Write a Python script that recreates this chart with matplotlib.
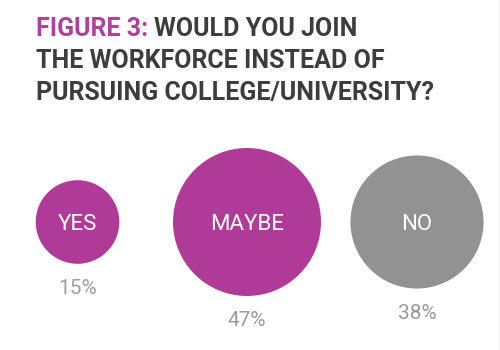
import matplotlib
matplotlib.use("Agg")
import matplotlib.pyplot as plt
from matplotlib.patches import Circle
import numpy as np

# survey answers
answers = ["YES", "MAYBE", "NO"]
shares = [15, 47, 38]
colors = ["#b03a97", "#b03a97", "#929292"]
pct_colors = ["#a59d97", "#9a9a9a", "#9a9a9a"]

centers_x = [77.5, 247, 417]
center_y = 222
scale = 74 / np.sqrt(47)   # px per sqrt(percent), circle area ~ share

fig = plt.figure(figsize=(5, 3.5), dpi=100)
ax = fig.add_axes([0, 0, 1, 1])
ax.set_xlim(0, 500)
ax.set_ylim(350, 0)
ax.set_aspect("equal")
ax.axis("off")

# title, first bit in magenta
tkw = dict(fontsize=18, family="Roboto", weight="bold", va="center", ha="left")
t = ax.text(36, 29, "FIGURE 3: ", color="#b0409a", **tkw)
fig.canvas.draw()
bb = t.get_window_extent().transformed(ax.transData.inverted())
ax.text(bb.x1, 29, "WOULD YOU JOIN", color="#3d3d3d", **tkw)
ax.text(36, 61, "THE WORKFORCE INSTEAD OF", color="#3d3d3d", **tkw)
ax.text(36, 93, "PURSUING COLLEGE/UNIVERSITY?", color="#3d3d3d", **tkw)

for name, val, cx, c, pc in zip(answers, shares, centers_x, colors, pct_colors):
    r = scale * np.sqrt(val)
    ax.add_patch(Circle((cx, center_y), r, color=c, lw=0))
    ax.text(cx, center_y + 2, name, color="white", fontsize=16, family="Roboto",
            weight="normal", ha="center", va="center")
    ax.text(cx, center_y + r + 25, f"{val}%", color=pc, fontsize=15, family="Roboto",
            weight="normal", ha="center", va="center")

ax.axvline(499, color="#eeeeee", lw=1)

fig.savefig("out.png", dpi=100)
